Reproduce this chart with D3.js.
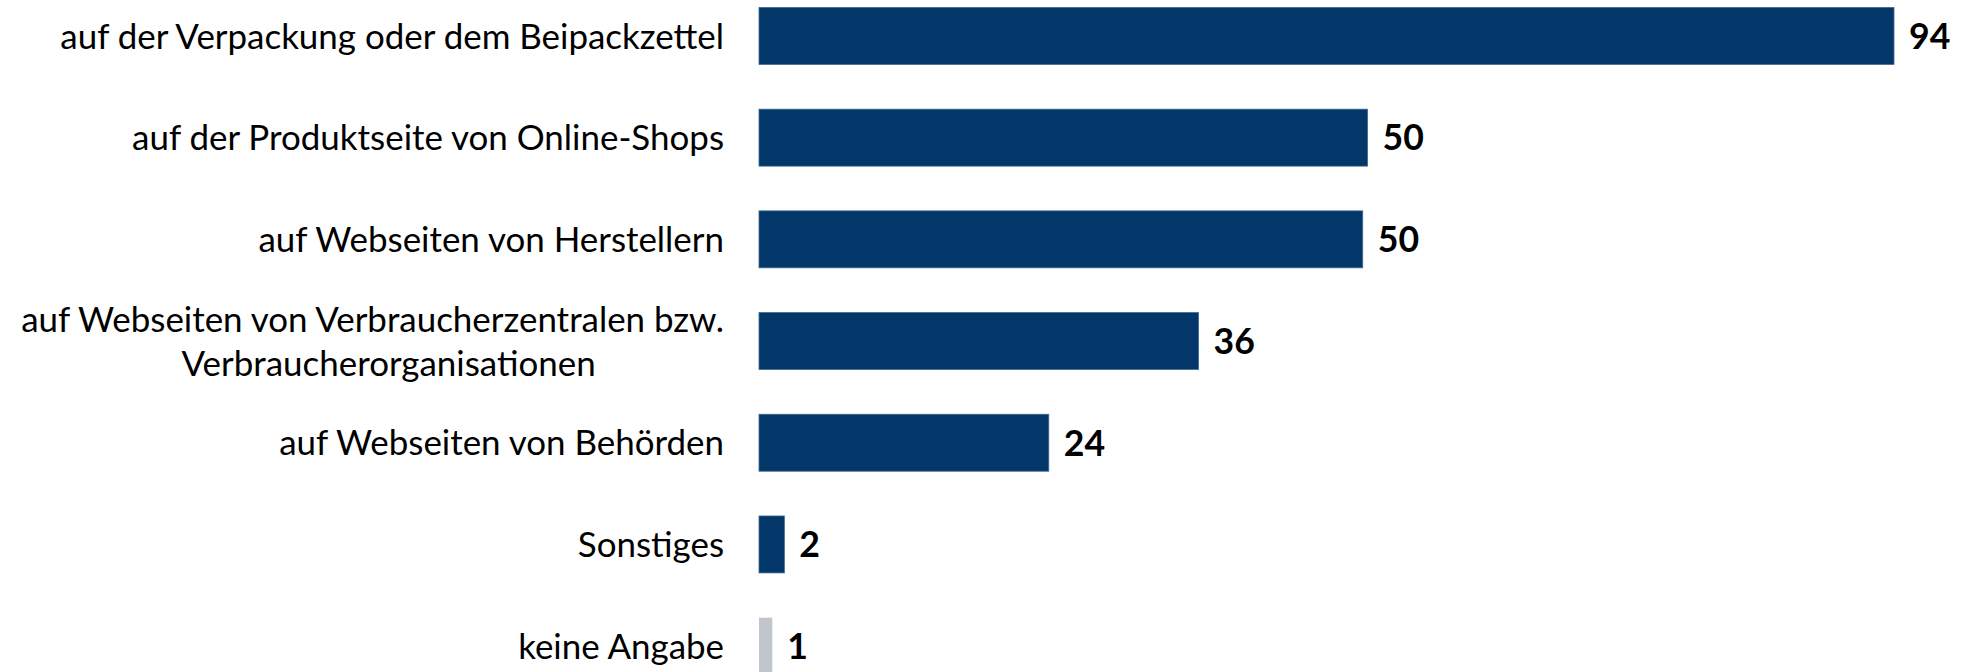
<!DOCTYPE html>
<html>
<head>
<meta charset="utf-8">
<script src="https://cdn.jsdelivr.net/npm/d3@7"></script>
<style>
  html, body { margin: 0; padding: 0; background: #fff; }
  svg { display: block; }
  .label { font-family: Lato, "Noto Sans", sans-serif; fill: #000; }
  .value { font-family: Lato, "Noto Sans", sans-serif; font-weight: bold; fill: #000; }
</style>
</head>
<body>
<svg id="chart"></svg>
<script>
// categories, top to bottom (a label with two lines is an array)
var categories = [
  ["auf der Verpackung oder dem Beipackzettel"],
  ["auf der Produktseite von Online-Shops"],
  ["auf Webseiten von Herstellern"],
  ["auf Webseiten von Verbraucherzentralen bzw.", "Verbraucherorganisationen"],
  ["auf Webseiten von Behörden"],
  ["Sonstiges"],
  ["keine Angabe"]
];
var values = [94, 50.4, 50.0, 36.4, 24.0, 2.1, 1.1];
var valueLabels = ["94", "50", "50", "36", "24", "2", "1"];
var greyRows = [false, false, false, false, false, false, true];

var width = 1975,
  height = 672,
  barLeft = 759,
  labelRight = 724;

var svg = d3.select("#chart")
  .attr("width", width)
  .attr("height", height);

var x = d3.scaleLinear()
  .domain([0, 94])
  .range([barLeft, 1894]);

var keys = categories.map(function (c) { return c.join(" "); });

var y = d3.scaleBand()
  .domain(keys)
  .range([-14.9, -14.9 + 7 * 101.7])
  .paddingInner(0.44)
  .paddingOuter(0.22);

// fit the label font to the width of the longest single line label
var probe = svg.append("text").attr("class", "label")
  .style("font-size", "35px").text(categories[0][0]);
var fontSize = 35 * 664 / probe.node().getComputedTextLength();
probe.remove();

svg.selectAll("rect.bar")
  .data(values)
  .enter().append("rect")
  .attr("class", "bar")
  .attr("x", x(0))
  .attr("y", function (d, i) { return y(keys[i]); })
  .attr("width", function (d) { return x(d) - x(0); })
  .attr("height", y.bandwidth())
  .attr("fill", function (d, i) { return greyRows[i] ? "#c1c5cc" : "#033769"; })
  .attr("stroke", function (d, i) { return greyRows[i] ? "none" : "#3f6892"; })
  .attr("stroke-width", 0.8);

svg.selectAll("text.value")
  .data(values)
  .enter().append("text")
  .attr("class", "value")
  .attr("x", function (d) { return x(d) + 15; })
  .attr("y", function (d, i) { return y(keys[i]) + y.bandwidth() / 2; })
  .attr("dy", "0.36em")
  .style("font-size", (fontSize * 1.02) + "px")
  .text(function (d, i) { return valueLabels[i]; });

var labels = svg.selectAll("g.label")
  .data(categories)
  .enter().append("g")
  .attr("transform", function (d, i) {
    return "translate(0," + (y(keys[i]) + y.bandwidth() / 2) + ")";
  });

labels.each(function (lines) {
  var g = d3.select(this);
  if (lines.length === 1) {
    g.append("text").attr("class", "label")
      .attr("x", labelRight)
      .attr("dy", "0.36em")
      .style("font-size", fontSize + "px")
      .attr("text-anchor", "end")
      .text(lines[0]);
  } else {
    var first = g.append("text").attr("class", "label")
      .attr("x", labelRight)
      .attr("y", -22)
      .attr("dy", "0.36em")
      .style("font-size", fontSize + "px")
      .attr("text-anchor", "end")
      .text(lines[0]);
    var w = first.node().getComputedTextLength();
    g.append("text").attr("class", "label")
      .attr("x", labelRight - w / 2 + 16)
      .attr("y", 22)
      .attr("dy", "0.36em")
      .style("font-size", fontSize + "px")
      .attr("text-anchor", "middle")
      .text(lines[1]);
  }
});
</script>
</body>
</html>
